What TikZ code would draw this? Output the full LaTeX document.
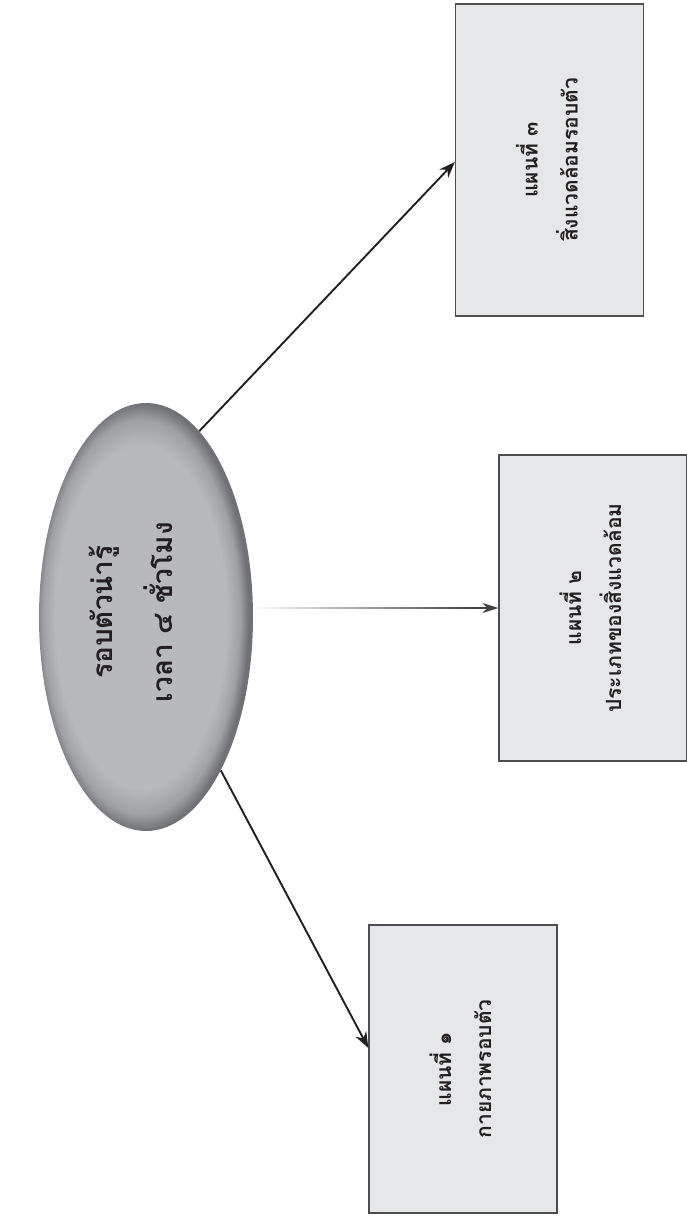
\documentclass[tikz,border=0pt]{standalone}
\usepackage{fontspec}
\newfontfamily\thai[Script=Thai]{Loma}
\usetikzlibrary{shapes.geometric,arrows.meta,calc}
\definecolor{boxfill}{RGB}{230,231,232}
\definecolor{boxline}{RGB}{77,77,79}
\definecolor{ink}{RGB}{35,31,32}
\definecolor{elllight}{RGB}{184,185,189}
\definecolor{ellmid}{RGB}{160,161,165}
\definecolor{elldark}{RGB}{112,113,117}
\pgfdeclareradialshading{ellshade}{\pgfpoint{-2bp}{0bp}}{color(0bp)=(elllight); color(20bp)=(elllight); color(23bp)=(ellmid); color(25bp)=(elldark); color(50bp)=(elldark)}
\begin{document}
\begin{tikzpicture}[x=1pt,y=-1pt,
  mapbox/.style={draw=boxline, line width=1.3pt, fill=boxfill, minimum width=188pt, inner sep=0pt,
    font=\thai\bfseries\fontsize{21}{40}\selectfont, text=ink},
  hub/.style={ellipse, shading=ellshade, minimum width=214pt, minimum height=428pt, inner sep=0pt},
  hubtext/.style={font=\thai\bfseries\fontsize{28}{60}\selectfont, text=ink, inner sep=0pt},
  conn/.style={draw=ink, line width=1.9pt, -{Stealth[length=16pt,width=12pt]}},
  connthin/.style={draw=ink!85, line width=1.1pt, -{Stealth[length=16pt,width=10pt]}}]
\useasboundingbox (0,0) rectangle (686,1222);
\node[hub] (e) at (146,617) {};
\node[hubtext] (et) at ([xshift=-16pt,yshift=5pt]e.center)
  {\rotatebox{90}{\begin{tabular}{@{}c@{}}รอบตัวน่ารู้\\เวลา ๔ ชั่วโมง\end{tabular}}};
\node[mapbox, minimum height=312pt] (b3) at (549.5,160)
  {\rotatebox{90}{\begin{tabular}{@{}c@{}}แผนที่ ๓\\สิ่งแวดล้อมรอบตัว\end{tabular}}};
\node[mapbox, minimum height=306pt] (b2) at (593,608)
  {\rotatebox{90}{\begin{tabular}{@{}c@{}}แผนที่ ๒\\ประเภทของสิ่งแวดล้อม\end{tabular}}};
\node[mapbox, minimum height=288pt] (b1) at (463,1069)
  {\rotatebox{90}{\begin{tabular}{@{}c@{}}แผนที่ ๑\\กายภาพรอบตัว\end{tabular}}};
\draw[conn] (e.74) -- ($(b3.west)+(0,2)$);
\draw[conn] (e.-64) -- ($(b1.west)+(0,-21)$);
\coordinate (ms) at (e.east |- b2.west);
\coordinate (mh) at ($(b2.west)+(-22,0)$);
\shade[left color=white, right color=ink!85] ($(ms)+(0,-0.55)$) rectangle ($(mh)+(0,0.55)$);
\draw[connthin] (mh) -- (b2.west);
\end{tikzpicture}
\end{document}
